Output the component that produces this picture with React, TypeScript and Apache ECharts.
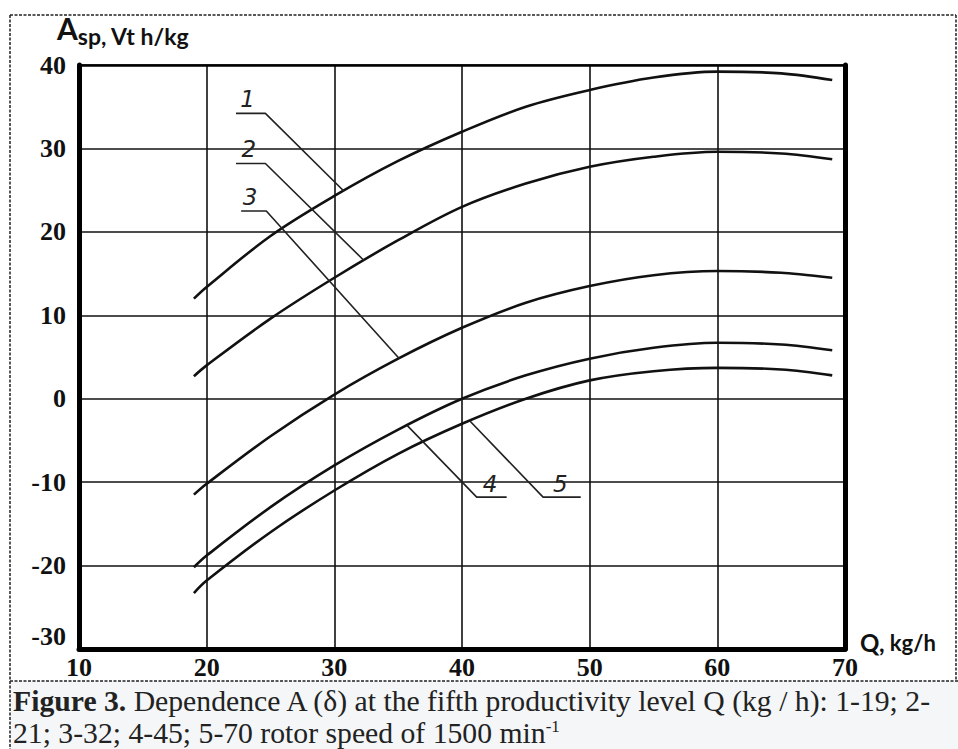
import React, { useEffect, useRef } from "react";
import * as echarts from "echarts";

const xValues = [19, 20, 25, 30, 35, 40, 45, 50, 55, 60, 65, 69];
const curve1 = [12, 13.4, 19.5, 24.3, 28.5, 32, 35, 37, 38.5, 39.2, 39.0, 38.2];
const curve2 = [2.7, 4, 9.6, 14.5, 19, 23, 25.8, 27.8, 29, 29.6, 29.4, 28.7];
const curve3 = [-11.5, -10.2, -4.5, 0.5, 4.8, 8.5, 11.5, 13.5, 14.8, 15.3, 15.1, 14.5];
const curve4 = [-20.2, -18.8, -13, -8, -3.7, 0, 2.8, 4.8, 6.1, 6.7, 6.5, 5.8];
const curve5 = [-23.3, -21.8, -16, -11, -6.6, -3, 0, 2.2, 3.3, 3.7, 3.5, 2.8];
const curves = [curve1, curve2, curve3, curve4, curve5];

const xTicks = [10, 20, 30, 40, 50, 60, 70];
const yTicks = [-30, -20, -10, 0, 10, 20, 30, 40];

// leader lines (data coords)
const leaderNames = ["1", "2", "3", "4", "5"];
const leaders: number[][][] = [
  [[30.74, 24.9], [24.6, 34.2], [22.3, 34.2]],
  [[32.3, 16.6], [24.6, 28.2], [22.3, 28.2]],
  [[35.1, 4.8], [24.67, 22.5], [22.7, 22.5]],
  [[35.7, -3.2], [41.15, -11.8], [43.5, -11.8]],
  [[40.6, -2.64], [46.35, -11.8], [49.3, -11.8]],
];
const leaderTextPos: number[][] = [
  [23.2, 35.9],
  [23.3, 29.9],
  [23.4, 24.2],
  [42.2, -10.2],
  [47.7, -10.2],
];

const captionLine1 = "{b|Figure 3.} Dependence A (δ) at the fifth productivity level Q (kg / h): 1-19; 2-";
const captionLine2 = "21; 3-32; 4-45; 5-70 rotor speed of 1500 min{sup|-1}";

export default function App() {
  const ref = useRef<HTMLDivElement>(null);
  useEffect(() => {
    if (!ref.current) return;
    const chart = echarts.init(ref.current, null, { renderer: "svg" });
    const tickFont = {
      fontFamily: "Liberation Serif",
      fontWeight: "bold" as const,
      fontSize: 26,
      color: "#111",
    };
    const series: any[] = curves.map((c, i) => ({
      type: "line",
      name: "Curve " + (i + 1),
      data: xValues.map((x, j) => [x, c[j]]),
      smooth: 0.35,
      showSymbol: false,
      lineStyle: { color: "#111", width: 2.6 },
      z: 3,
    }));
    leaders.forEach((l, i) => {
      series.push({
        type: "line",
        name: "leader " + leaderNames[i],
        data: l,
        showSymbol: false,
        lineStyle: { color: "#222", width: 1.6 },
        z: 4,
      });
    });
    const option: any = {
      animation: false,
      backgroundColor: "#fff",
      grid: { left: 79, right: 113, top: 65, bottom: 100, show: false },
      xAxis: [
        {
          type: "value",
          min: 10,
          max: 70,
          interval: 10,
          position: "bottom",
          axisLine: { show: true, onZero: false, lineStyle: { color: "#000", width: 5 } },
          axisTick: { show: false },
          axisLabel: { ...tickFont, margin: 5 },
          splitLine: { show: true, lineStyle: { color: "#111", width: 1.6 } },
        },
        {
          type: "value",
          min: 10,
          max: 70,
          interval: 10,
          position: "top",
          axisLine: { show: true, onZero: false, lineStyle: { color: "#000", width: 2.5 } },
          axisTick: { show: false },
          axisLabel: { show: false },
          splitLine: { show: false },
        },
      ],
      yAxis: [
        {
          type: "value",
          min: -30,
          max: 40,
          interval: 10,
          position: "left",
          axisLine: { show: true, onZero: false, lineStyle: { color: "#000", width: 5 } },
          axisTick: { show: false },
          axisLabel: { ...tickFont, margin: 13, verticalAlignMinLabel: "bottom" },
          splitLine: { show: true, lineStyle: { color: "#111", width: 1.6 } },
        },
        {
          type: "value",
          min: -30,
          max: 40,
          interval: 10,
          position: "right",
          axisLine: { show: true, onZero: false, lineStyle: { color: "#000", width: 5 } },
          axisTick: { show: false },
          axisLabel: { show: false },
          splitLine: { show: false },
        },
      ],
      series,
    };
    chart.setOption(option);

    const graphic: any[] = [];
    graphic.push({
      type: "rect",
      shape: { x: 10, y: 681, width: 948, height: 68 },
      style: { fill: "#f4f6f8" },
      z: -1,
    });
    const dash = { stroke: "#222", lineWidth: 1.5, lineDash: [3, 1.5] };
    graphic.push({ type: "line", shape: { x1: 10, y1: 15, x2: 956, y2: 15 }, style: dash });
    graphic.push({ type: "line", shape: { x1: 10, y1: 15, x2: 10, y2: 749 }, style: dash });
    graphic.push({ type: "line", shape: { x1: 956, y1: 15, x2: 956, y2: 681 }, style: dash });
    graphic.push({ type: "line", shape: { x1: 10, y1: 681, x2: 958, y2: 681 }, style: dash });

    // axis titles
    graphic.push({
      type: "text",
      x: 57,
      y: 47,
      style: {
        text: "{a|A}{s|sp, Vt h/kg}",
        verticalAlign: "bottom",
        rich: {
          a: { fontFamily: "Lato", fontWeight: "bold", fontSize: 30, fill: "#111", verticalAlign: "bottom", padding: [0, 0, 4, 0] },
          s: { fontFamily: "Lato", fontWeight: "bold", fontSize: 23, fill: "#111", verticalAlign: "bottom" },
        },
      },
    });
    graphic.push({
      type: "text",
      x: 860,
      y: 642,
      style: {
        text: "{q|Q,}{k| kg/h}",
        verticalAlign: "middle",
        rich: {
          q: { fontFamily: "Lato", fontWeight: "bold", fontSize: 24, fill: "#111" },
          k: { fontFamily: "Lato", fontWeight: "bold", fontSize: 22, fill: "#111" },
        },
      },
    });

    // leader labels
    leaderTextPos.forEach((p, i) => {
      const px = chart.convertToPixel({ gridIndex: 0 }, p) as number[];
      graphic.push({
        type: "text",
        x: px[0],
        y: px[1],
        style: {
          text: leaderNames[i],
          fontFamily: "DejaVu Sans",
          fontStyle: "italic",
          fontWeight: 300,
          fontSize: 23,
          fill: "#222",
          align: "center",
          verticalAlign: "middle",
        },
        z: 10,
      });
    });

    // caption
    graphic.push({
      type: "text",
      x: 13,
      y: 701,
      style: {
        text: captionLine1,
        fontFamily: "Liberation Serif",
        fontSize: 29.7,
        fill: "#222",
        verticalAlign: "middle",
        rich: {
          b: { fontFamily: "Liberation Serif", fontWeight: "bold", fontSize: 29.7, fill: "#222" },
        },
      },
    });
    graphic.push({
      type: "text",
      x: 13,
      y: 733,
      style: {
        text: captionLine2,
        fontFamily: "Liberation Serif",
        fontSize: 29.7,
        fill: "#222",
        verticalAlign: "middle",
        rich: {
          sup: { fontFamily: "Liberation Serif", fontSize: 17, fill: "#222", verticalAlign: "top", padding: [0, 0, 14, 0] },
        },
      },
    });
    chart.setOption({ graphic });
    return () => chart.dispose();
  }, []);
  return (
    <div
      ref={ref}
      style={{ position: "absolute", left: 0, top: 0, width: 958, height: 749 }}
    />
  );
}
